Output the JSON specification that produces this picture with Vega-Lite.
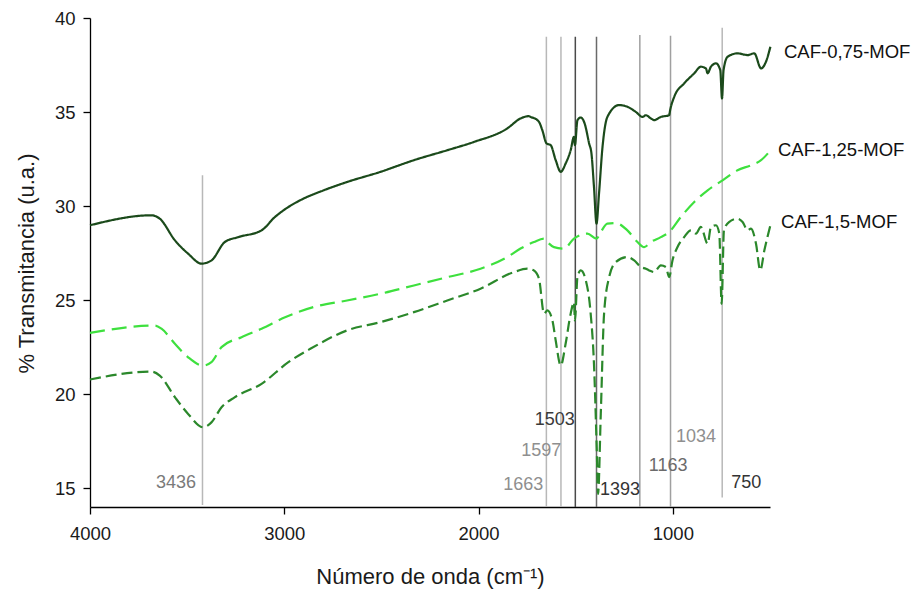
{
  "$schema": "https://vega.github.io/schema/vega-lite/v6.json",
  "width": 680,
  "height": 489,
  "autosize": {"type": "none"},
  "padding": {"left": 90, "top": 18, "right": 145, "bottom": 82},
  "background": "white",
  "config": {
    "font": "Liberation Sans",
    "view": {"stroke": null},
    "axis": {"grid": false, "domainColor": "#000", "tickColor": "#000", "domainWidth": 1.3, "tickWidth": 1.3, "tickSize": 7, "labelColor": "#1a1a1a", "labelFontSize": 18.5, "titleFontSize": 22, "titleFontWeight": "normal", "titleColor": "#1a1a1a", "labelFlush": false, "labelOverlap": false}
  },
  "datasets": {
    "spectra": [
      {"s": "CAF-0,75-MOF", "wn": 4000, "t": 28.98}, {"s": "CAF-0,75-MOF", "wn": 3684, "t": 29.51}, {"s": "CAF-0,75-MOF", "wn": 3641, "t": 29.33}, {"s": "CAF-0,75-MOF", "wn": 3563, "t": 28.18}, {"s": "CAF-0,75-MOF", "wn": 3495, "t": 27.47}, {"s": "CAF-0,75-MOF", "wn": 3426, "t": 26.94}, {"s": "CAF-0,75-MOF", "wn": 3375, "t": 27.11}, {"s": "CAF-0,75-MOF", "wn": 3306, "t": 28.09}, {"s": "CAF-0,75-MOF", "wn": 3237, "t": 28.35}, {"s": "CAF-0,75-MOF", "wn": 3117, "t": 28.71}, {"s": "CAF-0,75-MOF", "wn": 3048, "t": 29.42}, {"s": "CAF-0,75-MOF", "wn": 2979, "t": 29.95}, {"s": "CAF-0,75-MOF", "wn": 2918, "t": 30.31}, {"s": "CAF-0,75-MOF", "wn": 2797, "t": 30.84}, {"s": "CAF-0,75-MOF", "wn": 2677, "t": 31.28}, {"s": "CAF-0,75-MOF", "wn": 2505, "t": 31.82}, {"s": "CAF-0,75-MOF", "wn": 2333, "t": 32.44}, {"s": "CAF-0,75-MOF", "wn": 2161, "t": 32.97}, {"s": "CAF-0,75-MOF", "wn": 2024, "t": 33.41}, {"s": "CAF-0,75-MOF", "wn": 1852, "t": 34.13}, {"s": "CAF-0,75-MOF", "wn": 1784, "t": 34.66}, {"s": "CAF-0,75-MOF", "wn": 1741, "t": 34.78}, {"s": "CAF-0,75-MOF", "wn": 1732, "t": 34.74}, {"s": "CAF-0,75-MOF", "wn": 1697, "t": 34.57}, {"s": "CAF-0,75-MOF", "wn": 1689, "t": 34.48}, {"s": "CAF-0,75-MOF", "wn": 1672, "t": 34.04}, {"s": "CAF-0,75-MOF", "wn": 1650, "t": 33.33}, {"s": "CAF-0,75-MOF", "wn": 1629, "t": 33.24}, {"s": "CAF-0,75-MOF", "wn": 1603, "t": 32.44}, {"s": "CAF-0,75-MOF", "wn": 1577, "t": 31.82}, {"s": "CAF-0,75-MOF", "wn": 1552, "t": 32.26}, {"s": "CAF-0,75-MOF", "wn": 1526, "t": 32.97}, {"s": "CAF-0,75-MOF", "wn": 1509, "t": 33.68}, {"s": "CAF-0,75-MOF", "wn": 1504, "t": 33.24}, {"s": "CAF-0,75-MOF", "wn": 1491, "t": 34.57}, {"s": "CAF-0,75-MOF", "wn": 1474, "t": 34.71}, {"s": "CAF-0,75-MOF", "wn": 1454, "t": 34.39}, {"s": "CAF-0,75-MOF", "wn": 1431, "t": 33.33}, {"s": "CAF-0,75-MOF", "wn": 1419, "t": 32.8}, {"s": "CAF-0,75-MOF", "wn": 1406, "t": 31.02}, {"s": "CAF-0,75-MOF", "wn": 1393, "t": 29.07}, {"s": "CAF-0,75-MOF", "wn": 1380, "t": 30.67}, {"s": "CAF-0,75-MOF", "wn": 1362, "t": 33.15}, {"s": "CAF-0,75-MOF", "wn": 1337, "t": 34.74}, {"s": "CAF-0,75-MOF", "wn": 1277, "t": 35.37}, {"s": "CAF-0,75-MOF", "wn": 1234, "t": 35.28}, {"s": "CAF-0,75-MOF", "wn": 1191, "t": 35.01}, {"s": "CAF-0,75-MOF", "wn": 1156, "t": 34.74}, {"s": "CAF-0,75-MOF", "wn": 1139, "t": 34.83}, {"s": "CAF-0,75-MOF", "wn": 1113, "t": 34.66}, {"s": "CAF-0,75-MOF", "wn": 1096, "t": 34.57}, {"s": "CAF-0,75-MOF", "wn": 1062, "t": 34.74}, {"s": "CAF-0,75-MOF", "wn": 1019, "t": 34.83}, {"s": "CAF-0,75-MOF", "wn": 1014, "t": 35.1}, {"s": "CAF-0,75-MOF", "wn": 993, "t": 35.81}, {"s": "CAF-0,75-MOF", "wn": 942, "t": 36.52}, {"s": "CAF-0,75-MOF", "wn": 890, "t": 37.06}, {"s": "CAF-0,75-MOF", "wn": 856, "t": 37.41}, {"s": "CAF-0,75-MOF", "wn": 830, "t": 37.32}, {"s": "CAF-0,75-MOF", "wn": 821, "t": 37.06}, {"s": "CAF-0,75-MOF", "wn": 804, "t": 37.41}, {"s": "CAF-0,75-MOF", "wn": 778, "t": 37.59}, {"s": "CAF-0,75-MOF", "wn": 756, "t": 37.23}, {"s": "CAF-0,75-MOF", "wn": 747, "t": 35.72}, {"s": "CAF-0,75-MOF", "wn": 739, "t": 37.23}, {"s": "CAF-0,75-MOF", "wn": 718, "t": 37.94}, {"s": "CAF-0,75-MOF", "wn": 667, "t": 38.12}, {"s": "CAF-0,75-MOF", "wn": 615, "t": 38.03}, {"s": "CAF-0,75-MOF", "wn": 581, "t": 38.12}, {"s": "CAF-0,75-MOF", "wn": 546, "t": 37.32}, {"s": "CAF-0,75-MOF", "wn": 521, "t": 37.67}, {"s": "CAF-0,75-MOF", "wn": 498, "t": 38.47},

      {"s": "CAF-1,25-MOF", "wn": 4000, "t": 23.26}, {"s": "CAF-1,25-MOF", "wn": 3666, "t": 23.65}, {"s": "CAF-1,25-MOF", "wn": 3632, "t": 23.48}, {"s": "CAF-1,25-MOF", "wn": 3563, "t": 22.68}, {"s": "CAF-1,25-MOF", "wn": 3495, "t": 21.96}, {"s": "CAF-1,25-MOF", "wn": 3418, "t": 21.52}, {"s": "CAF-1,25-MOF", "wn": 3375, "t": 21.7}, {"s": "CAF-1,25-MOF", "wn": 3323, "t": 22.5}, {"s": "CAF-1,25-MOF", "wn": 3220, "t": 23.03}, {"s": "CAF-1,25-MOF", "wn": 3117, "t": 23.48}, {"s": "CAF-1,25-MOF", "wn": 2996, "t": 24.09}, {"s": "CAF-1,25-MOF", "wn": 2849, "t": 24.63}, {"s": "CAF-1,25-MOF", "wn": 2677, "t": 24.98}, {"s": "CAF-1,25-MOF", "wn": 2505, "t": 25.34}, {"s": "CAF-1,25-MOF", "wn": 2333, "t": 25.78}, {"s": "CAF-1,25-MOF", "wn": 2161, "t": 26.22}, {"s": "CAF-1,25-MOF", "wn": 1990, "t": 26.67}, {"s": "CAF-1,25-MOF", "wn": 1852, "t": 27.29}, {"s": "CAF-1,25-MOF", "wn": 1784, "t": 27.74}, {"s": "CAF-1,25-MOF", "wn": 1715, "t": 28.09}, {"s": "CAF-1,25-MOF", "wn": 1663, "t": 28.27}, {"s": "CAF-1,25-MOF", "wn": 1646, "t": 28.09}, {"s": "CAF-1,25-MOF", "wn": 1612, "t": 27.82}, {"s": "CAF-1,25-MOF", "wn": 1560, "t": 27.74}, {"s": "CAF-1,25-MOF", "wn": 1509, "t": 28.27}, {"s": "CAF-1,25-MOF", "wn": 1440, "t": 28.54}, {"s": "CAF-1,25-MOF", "wn": 1393, "t": 28.27}, {"s": "CAF-1,25-MOF", "wn": 1371, "t": 28.62}, {"s": "CAF-1,25-MOF", "wn": 1337, "t": 29.07}, {"s": "CAF-1,25-MOF", "wn": 1294, "t": 29.1}, {"s": "CAF-1,25-MOF", "wn": 1234, "t": 28.71}, {"s": "CAF-1,25-MOF", "wn": 1182, "t": 28.09}, {"s": "CAF-1,25-MOF", "wn": 1148, "t": 27.82}, {"s": "CAF-1,25-MOF", "wn": 1113, "t": 28.09}, {"s": "CAF-1,25-MOF", "wn": 1062, "t": 28.35}, {"s": "CAF-1,25-MOF", "wn": 1019, "t": 28.62}, {"s": "CAF-1,25-MOF", "wn": 959, "t": 29.42}, {"s": "CAF-1,25-MOF", "wn": 890, "t": 30.22}, {"s": "CAF-1,25-MOF", "wn": 821, "t": 30.84}, {"s": "CAF-1,25-MOF", "wn": 744, "t": 31.37}, {"s": "CAF-1,25-MOF", "wn": 667, "t": 31.91}, {"s": "CAF-1,25-MOF", "wn": 598, "t": 32.17}, {"s": "CAF-1,25-MOF", "wn": 546, "t": 32.44}, {"s": "CAF-1,25-MOF", "wn": 504, "t": 32.88},

      {"s": "CAF-1,5-MOF", "wn": 4000, "t": 20.78}, {"s": "CAF-1,5-MOF", "wn": 3684, "t": 21.2}, {"s": "CAF-1,5-MOF", "wn": 3641, "t": 20.99}, {"s": "CAF-1,5-MOF", "wn": 3563, "t": 19.84}, {"s": "CAF-1,5-MOF", "wn": 3495, "t": 18.95}, {"s": "CAF-1,5-MOF", "wn": 3418, "t": 18.24}, {"s": "CAF-1,5-MOF", "wn": 3375, "t": 18.5}, {"s": "CAF-1,5-MOF", "wn": 3323, "t": 19.3}, {"s": "CAF-1,5-MOF", "wn": 3254, "t": 19.84}, {"s": "CAF-1,5-MOF", "wn": 3117, "t": 20.55}, {"s": "CAF-1,5-MOF", "wn": 2979, "t": 21.7}, {"s": "CAF-1,5-MOF", "wn": 2866, "t": 22.41}, {"s": "CAF-1,5-MOF", "wn": 2677, "t": 23.39}, {"s": "CAF-1,5-MOF", "wn": 2505, "t": 23.83}, {"s": "CAF-1,5-MOF", "wn": 2333, "t": 24.36}, {"s": "CAF-1,5-MOF", "wn": 2161, "t": 24.98}, {"s": "CAF-1,5-MOF", "wn": 1990, "t": 25.61}, {"s": "CAF-1,5-MOF", "wn": 1818, "t": 26.49}, {"s": "CAF-1,5-MOF", "wn": 1749, "t": 26.67}, {"s": "CAF-1,5-MOF", "wn": 1715, "t": 26.58}, {"s": "CAF-1,5-MOF", "wn": 1689, "t": 26.14}, {"s": "CAF-1,5-MOF", "wn": 1663, "t": 24.28}, {"s": "CAF-1,5-MOF", "wn": 1646, "t": 24.45}, {"s": "CAF-1,5-MOF", "wn": 1620, "t": 23.92}, {"s": "CAF-1,5-MOF", "wn": 1603, "t": 22.85}, {"s": "CAF-1,5-MOF", "wn": 1577, "t": 21.52}, {"s": "CAF-1,5-MOF", "wn": 1552, "t": 22.68}, {"s": "CAF-1,5-MOF", "wn": 1526, "t": 24.28}, {"s": "CAF-1,5-MOF", "wn": 1509, "t": 24.89}, {"s": "CAF-1,5-MOF", "wn": 1504, "t": 23.92}, {"s": "CAF-1,5-MOF", "wn": 1491, "t": 26.22}, {"s": "CAF-1,5-MOF", "wn": 1474, "t": 26.58}, {"s": "CAF-1,5-MOF", "wn": 1448, "t": 26.05}, {"s": "CAF-1,5-MOF", "wn": 1423, "t": 24.28}, {"s": "CAF-1,5-MOF", "wn": 1406, "t": 21.61}, {"s": "CAF-1,5-MOF", "wn": 1392, "t": 17.17}, {"s": "CAF-1,5-MOF", "wn": 1385, "t": 14.69}, {"s": "CAF-1,5-MOF", "wn": 1371, "t": 18.95}, {"s": "CAF-1,5-MOF", "wn": 1354, "t": 24.28}, {"s": "CAF-1,5-MOF", "wn": 1328, "t": 26.22}, {"s": "CAF-1,5-MOF", "wn": 1294, "t": 27.02}, {"s": "CAF-1,5-MOF", "wn": 1234, "t": 27.29}, {"s": "CAF-1,5-MOF", "wn": 1199, "t": 27.11}, {"s": "CAF-1,5-MOF", "wn": 1165, "t": 26.76}, {"s": "CAF-1,5-MOF", "wn": 1139, "t": 26.67}, {"s": "CAF-1,5-MOF", "wn": 1122, "t": 26.58}, {"s": "CAF-1,5-MOF", "wn": 1096, "t": 26.49}, {"s": "CAF-1,5-MOF", "wn": 1062, "t": 26.85}, {"s": "CAF-1,5-MOF", "wn": 1036, "t": 26.76}, {"s": "CAF-1,5-MOF", "wn": 1019, "t": 26.22}, {"s": "CAF-1,5-MOF", "wn": 1002, "t": 27.11}, {"s": "CAF-1,5-MOF", "wn": 976, "t": 27.82}, {"s": "CAF-1,5-MOF", "wn": 942, "t": 28.35}, {"s": "CAF-1,5-MOF", "wn": 907, "t": 28.71}, {"s": "CAF-1,5-MOF", "wn": 881, "t": 28.54}, {"s": "CAF-1,5-MOF", "wn": 856, "t": 28.89}, {"s": "CAF-1,5-MOF", "wn": 821, "t": 28.0}, {"s": "CAF-1,5-MOF", "wn": 804, "t": 28.89}, {"s": "CAF-1,5-MOF", "wn": 778, "t": 28.98}, {"s": "CAF-1,5-MOF", "wn": 761, "t": 28.54}, {"s": "CAF-1,5-MOF", "wn": 749, "t": 24.8}, {"s": "CAF-1,5-MOF", "wn": 737, "t": 28.71}, {"s": "CAF-1,5-MOF", "wn": 711, "t": 29.15}, {"s": "CAF-1,5-MOF", "wn": 667, "t": 29.33}, {"s": "CAF-1,5-MOF", "wn": 641, "t": 29.15}, {"s": "CAF-1,5-MOF", "wn": 615, "t": 28.71}, {"s": "CAF-1,5-MOF", "wn": 598, "t": 28.8}, {"s": "CAF-1,5-MOF", "wn": 572, "t": 28.0}, {"s": "CAF-1,5-MOF", "wn": 550, "t": 26.58}, {"s": "CAF-1,5-MOF", "wn": 529, "t": 27.65}, {"s": "CAF-1,5-MOF", "wn": 498, "t": 28.98}
    ],
    "peaks": [
      {"lab": "3436", "wn": 3421, "t": 31.64, "b": 14.1},
      {"lab": "1663", "wn": 1651, "t": 39.0, "b": 14.0},
      {"lab": "1597", "wn": 1576, "t": 39.0, "b": 14.0},
      {"lab": "1503", "wn": 1502, "t": 39.0, "b": 14.0},
      {"lab": "1393", "wn": 1393, "t": 39.0, "b": 14.0},
      {"lab": "1163", "wn": 1170, "t": 39.1, "b": 14.0},
      {"lab": "1034", "wn": 1012, "t": 39.05, "b": 14.0},
      {"lab": "750", "wn": 746, "t": 39.48, "b": 14.5}
    ],
    "peaklabels": [
      {"lab": "3436", "wn": 3557, "t": 15.29},
      {"lab": "1663", "wn": 1770, "t": 15.19},
      {"lab": "1597", "wn": 1677, "t": 16.96},
      {"lab": "1503", "wn": 1608, "t": 18.65},
      {"lab": "1393", "wn": 1272, "t": 14.92},
      {"lab": "1163", "wn": 1024, "t": 16.16},
      {"lab": "1034", "wn": 881, "t": 17.71},
      {"lab": "750", "wn": 622, "t": 15.26}
    ],
    "names": [
      {"s": "CAF-0,75-MOF", "wn": 428, "t": 38.21},
      {"s": "CAF-1,25-MOF", "wn": 459, "t": 32.97},
      {"s": "CAF-1,5-MOF", "wn": 443, "t": 29.15}
    ]
  },
  "encoding": {
    "x": {"field": "wn", "type": "quantitative", "scale": {"domain": [500, 4000], "reverse": true, "nice": false, "zero": false},
      "axis": {"values": [4000, 3000, 2000, 1000], "title": "Número de onda (cm⁻¹)", "labelPadding": 10, "titleY": 76, "titleBaseline": "alphabetic", "format": "d"}},
    "y": {"field": "t", "type": "quantitative", "scale": {"domain": [14, 40], "nice": false, "zero": false},
      "axis": {"values": [15, 20, 25, 30, 35, 40], "title": "% Transmitancia (u.a.)", "labelPadding": 8, "titleX": -57, "titleY": 245, "titleAngle": 270, "titleAlign": "center", "titleBaseline": "alphabetic"}}
  },
  "layer": [
    {
      "data": {"name": "peaks"},
      "mark": {"type": "rule", "strokeWidth": 1.5},
      "encoding": {
        "y2": {"field": "b"},
        "color": {"condition": [
          {"test": "datum.lab == '1503'", "value": "#4a4a4a"},
          {"test": "datum.lab == '1393'", "value": "#6a6a6a"},
          {"test": "datum.lab == '1163' || datum.lab == '1034'", "value": "#a0a0a0"}
        ], "value": "#b8b8b8"}
      }
    },
    {
      "data": {"name": "spectra"},
      "mark": {"type": "line", "strokeWidth": 2.2, "interpolate": "monotone"},
      "encoding": {
        "color": {"field": "s", "type": "nominal", "legend": null,
          "scale": {"domain": ["CAF-0,75-MOF", "CAF-1,25-MOF", "CAF-1,5-MOF"], "range": ["#1b4a1b", "#3ee03e", "#2b882b"]}},
        "strokeDash": {"field": "s", "type": "nominal", "legend": null,
          "scale": {"domain": ["CAF-0,75-MOF", "CAF-1,25-MOF", "CAF-1,5-MOF"], "range": [[1, 0], [15, 7], [11, 5]]}}
      }
    },
    {
      "data": {"name": "peaklabels"},
      "mark": {"type": "text", "fontSize": 18, "align": "center", "baseline": "middle"},
      "encoding": {
        "text": {"field": "lab"},
        "color": {"condition": [
          {"test": "datum.lab == '1503'", "value": "#3a3a3a"},
          {"test": "datum.lab == '1393' || datum.lab == '750'", "value": "#333333"},
          {"test": "datum.lab == '1163'", "value": "#6b6b6b"},
          {"test": "datum.lab == '3436'", "value": "#7a7a7a"}
        ], "value": "#8f8f8f"}
      }
    },
    {
      "data": {"name": "names"},
      "mark": {"type": "text", "fontSize": 18.5, "align": "left", "baseline": "middle", "color": "#111"},
      "encoding": {
        "text": {"field": "s"}
      }
    }
  ]
}
